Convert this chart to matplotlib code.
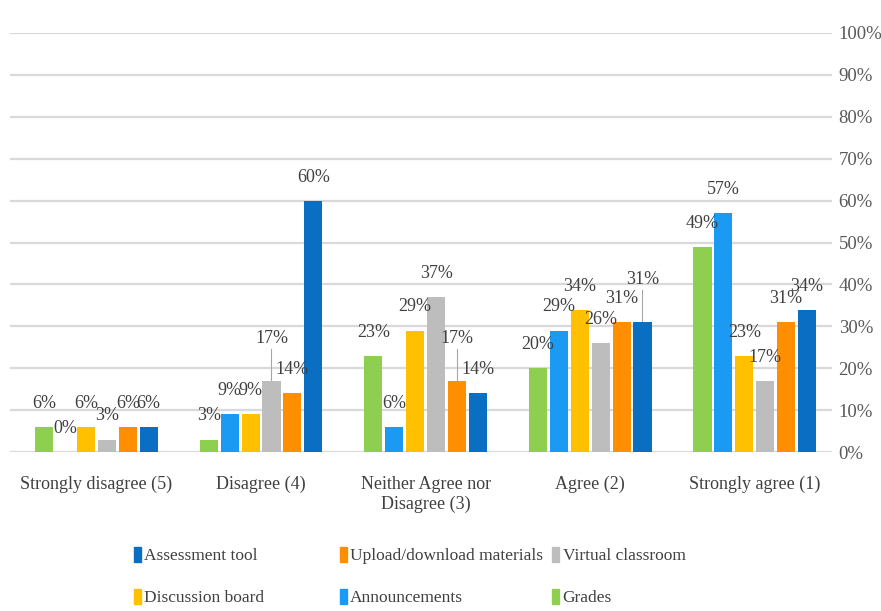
import numpy as np
import matplotlib
matplotlib.use("Agg")
import matplotlib.pyplot as plt
from matplotlib.ticker import FuncFormatter

plt.rcParams['font.family'] = ['Liberation Serif', 'DejaVu Serif']

categories = ["Strongly disagree (5)", "Disagree (4)", "Neither Agree nor\nDisagree (3)",
              "Agree (2)", "Strongly agree (1)"]
series = ["Grades", "Announcements", "Discussion board", "Virtual classroom",
          "Upload/download materials", "Assessment tool"]
grades = [6, 3, 23, 20, 49]
announcements = [0, 9, 6, 29, 57]
discussion = [6, 9, 29, 34, 23]
virtual = [3, 17, 37, 26, 17]
upload = [6, 14, 17, 31, 31]
assessment = [6, 60, 14, 31, 34]
values = [grades, announcements, discussion, virtual, upload, assessment]
colors = ["#8fcf4f", "#1a9af2", "#ffc000", "#bdbdbd", "#ff8f00", "#0a6ec2"]

# labels pulled up with a leader line: (series index, category index) -> extra lift in %
lifts = {(3, 1): 4.6, (4, 2): 4.6, (5, 3): 4.6}

fig = plt.figure(figsize=(8.81, 6.11), dpi=100)
ax = fig.add_axes([0.011, 0.26, 0.933, 0.686])

x = np.arange(len(categories))
step = 0.127
w = 0.11
for i, (vals, c) in enumerate(zip(values, colors)):
    xs = x + (i - 2.5) * step
    ax.bar(xs, vals, width=w, color=c, zorder=3)
    for j, v in enumerate(vals):
        lift = lifts.get((i, j), 0)
        if lift:
            ax.plot([xs[j], xs[j]], [v, v + lift + 3.0], color="#a6a6a6", lw=0.8, zorder=2)
        ax.text(xs[j], v + lift + 3.6, f"{v}%", ha="center", va="bottom",
                fontsize=13, color="#404040", zorder=4)

ax.set_xlim(-0.527, 4.467)
ax.set_ylim(0, 100)
ax.set_yticks(np.arange(0, 101, 10))
ax.yaxis.set_major_formatter(FuncFormatter(lambda v, p: f"{int(v)}%"))
ax.yaxis.tick_right()
ax.tick_params(axis="y", length=0, pad=5, labelsize=13.5, labelcolor="#595959")
ax.set_xticks(x)
ax.set_xticklabels(categories, fontsize=13, color="#404040", linespacing=1.25)
ax.tick_params(axis="x", length=0, pad=17)
ax.grid(axis="y", color="#d9d9d9", lw=1.6, zorder=0)
for s in ax.spines.values():
    s.set_visible(False)

# legend: three columns of two entries each
columns = [(5, 2), (4, 1), (3, 0)]
col_x = [0.134, 0.368, 0.609]
for cx, col in zip(col_x, columns):
    handles = [plt.Rectangle((0, 0), 1, 1, color=colors[k]) for k in col]
    fig.legend(handles, [series[k] for k in col], loc="lower left",
               bbox_to_anchor=(cx, -0.018), frameon=False, fontsize=12.5,
               handlelength=0.4, handleheight=1.0, handletextpad=0.2,
               labelspacing=1.4, labelcolor="#404040")

fig.savefig("out.png", dpi=100, facecolor="white")
